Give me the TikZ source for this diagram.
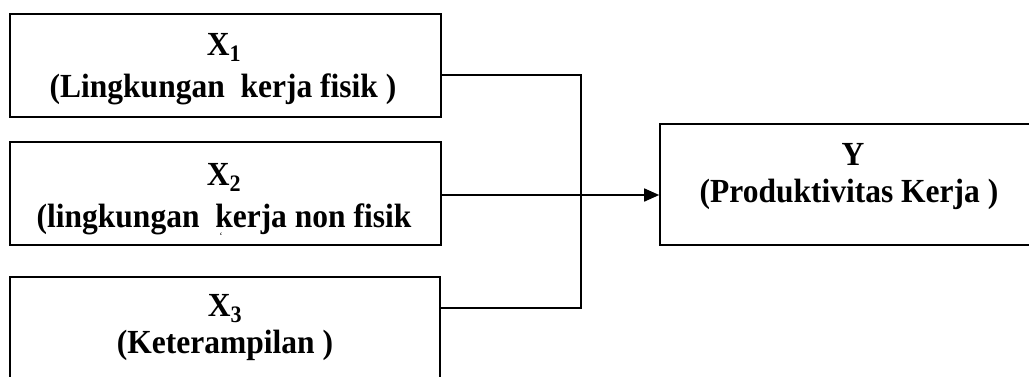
\documentclass[tikz,border=0pt]{standalone}
\usepackage{graphicx}
\usepackage{fontspec}
\setmainfont{Liberation Serif}
\usetikzlibrary{arrows.meta}
\newcommand{\vst}[1]{\scalebox{1}[1.07]{#1}}
\tikzset{
  box/.style={draw, line width=1.6pt, inner sep=0pt, rectangle},
  lbl/.style={anchor=base, inner sep=0pt, font=\fontsize{31.5}{38}\selectfont\bfseries},
  tiny/.style={anchor=base, inner sep=0pt, font=\fontsize{10}{12}\selectfont},
  conn/.style={line width=1.6pt},
}
\begin{document}
\begin{tikzpicture}[x=1pt,y=-1pt]
\useasboundingbox (0,0) rectangle (1029,376);
% boxes
\node[box, minimum width=431pt, minimum height=103pt] (x1) at (225.5,65.5) {};
\node[box, minimum width=431pt, minimum height=103pt] (x2) at (225.5,193.5) {};
\node[box, minimum width=430pt, minimum height=101pt] (x3) at (225,327.5) {};
\node[box, minimum width=374pt, minimum height=121pt] (y) at (847,184.5) {};
% texts
\node[lbl] (x1a) at (224,55) {\vst{X\textsubscript{1}}};
\node[lbl] (x1b) at (223,97) {\vst{(Lingkungan\ \ kerja fisik )}};
\node[lbl] (x2a) at (224,185) {\vst{X\textsubscript{2}}};
\node[lbl, text depth=0pt] (x2b) at (224,227) {\vst{(lingkungan\ \ kerja non fisik}};
\node[tiny] (x2c) at (221,239) {`};
\node[lbl] (x3a) at (225,316) {\vst{X\textsubscript{3}}};
\node[lbl] (x3b) at (225,353) {\vst{(Keterampilan )}};
\node[lbl] (ya) at (853,165) {\vst{Y}};
\node[lbl] (yb) at (849,202) {\vst{(Produktivitas Kerja )}};
% connectors
\coordinate (j1) at (581,75);
\coordinate (j3) at (581,308);
\coordinate (m) at (581,195);
\draw[conn] (x1.east |- j1) -- (j1) -- (j3) -- (x3.east |- j3);
\draw[conn, -{Triangle[length=15pt,width=13pt]}] (x2.east |- m) -- (y.west |- m);
\end{tikzpicture}
\end{document}
